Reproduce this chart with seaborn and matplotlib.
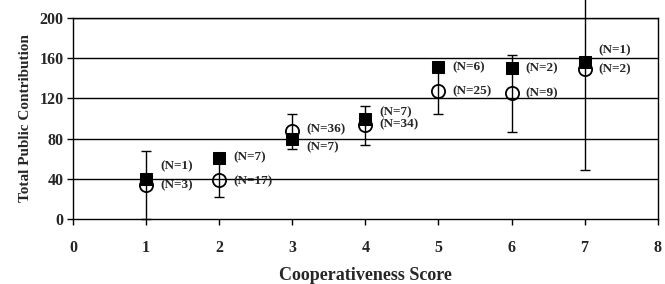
import numpy as np
import pandas as pd
import matplotlib
matplotlib.use("Agg")
import matplotlib.pyplot as plt
import seaborn as sns

# ---- data ----
scores = [1, 2, 3, 4, 5, 6, 7]
square_vals = [40, 61, 80, 99, 151, 150, 156]
square_n = ["(N=1)", "(N=7)", "(N=7)", "(N=7)", "(N=6)", "(N=2)", "(N=1)"]
circle_vals = [34, 39, 87, 93, 127, 125, 149]
circle_err = [34, 17, 17, 19, 23, 38.5, 100]
circle_n = ["(N=3)", "(N=17)", "(N=36)", "(N=34)", "(N=25)", "(N=9)", "(N=2)"]
x_ticks = [0, 1, 2, 3, 4, 5, 6, 7, 8]
y_ticks = [0, 40, 80, 120, 160, 200]

# label nudges (layout only, in data units)
sq_label_dy = [12, 0, -9, 7, 0, 0, 12]
ci_label_dy = [0, -2, 2, 1, 0, 0, 0]

sns.set_theme(style="white")
plt.rcParams["font.family"] = ["Liberation Serif", "DejaVu Serif"]
plt.rcParams["font.weight"] = "bold"

df_sq = pd.DataFrame({"score": scores, "value": square_vals})
df_ci = pd.DataFrame({"score": scores, "value": circle_vals})

fig = plt.figure(figsize=(6.65, 2.84), dpi=100)
ax = fig.add_axes([0.11, 0.229, 0.879, 0.708])

# gridlines
for yt in y_ticks[1:]:
    ax.axhline(yt, color="black", linewidth=1.0, zorder=1)

# error bars (circle series)
ax.errorbar(scores, circle_vals, yerr=circle_err, fmt="none", ecolor="black",
            elinewidth=1.0, capsize=3.4, capthick=1.0, zorder=2, clip_on=False)

sns.lineplot(data=df_ci, x="score", y="value", ax=ax, marker="o", linestyle="",
             markersize=9.5, markerfacecolor="none", markeredgecolor="black",
             markeredgewidth=1.3, color="black", errorbar=None, zorder=3)
sns.lineplot(data=df_sq, x="score", y="value", ax=ax, marker="s", linestyle="",
             markersize=8.8, markerfacecolor="black", markeredgecolor="black",
             color="black", errorbar=None, zorder=4)

for x, v, t, d in zip(scores, square_vals, square_n, sq_label_dy):
    ax.text(x + 0.19, v + d, t, fontsize=9.5, fontweight="bold", va="center", ha="left")
for x, v, t, d in zip(scores, circle_vals, circle_n, ci_label_dy):
    ax.text(x + 0.19, v + d, t, fontsize=9.5, fontweight="bold", va="center", ha="left")

ax.set_xlim(0, 8)
ax.set_ylim(0, 200)
ax.set_xticks(x_ticks)
ax.set_yticks(y_ticks)
ax.tick_params(axis="both", direction="out", length=4, width=1, color="black",
               labelsize=11.5, pad=3, bottom=True, left=True)
ax.tick_params(axis="x", pad=11)
for lab in ax.get_xticklabels() + ax.get_yticklabels():
    lab.set_fontweight("bold")

for s in ax.spines.values():
    s.set_color("black")
    s.set_linewidth(1.0)
    s.set_visible(True)

ax.set_xlabel("Cooperativeness Score", fontsize=13, fontweight="bold", labelpad=8)
ax.set_ylabel("Total Public Contribution", fontsize=11, fontweight="bold", labelpad=5)
ax.grid(False)

fig.savefig("out.png", dpi=100)
